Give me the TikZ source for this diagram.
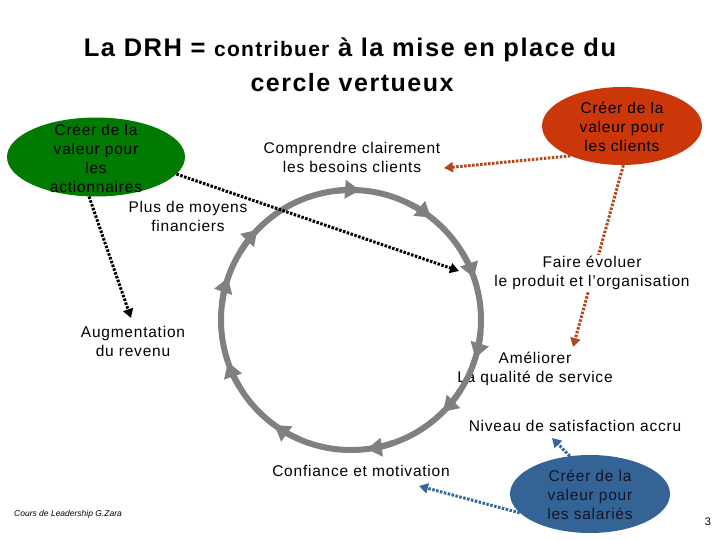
\documentclass[tikz,border=0pt]{standalone}
\usepackage{fontspec}
\setmainfont{Liberation Sans}
\usetikzlibrary{shapes.geometric,arrows.meta,calc}
\definecolor{cgreen}{RGB}{0,122,0}
\definecolor{cred}{RGB}{204,55,10}
\definecolor{cblue}{RGB}{52,100,150}
\definecolor{cgray}{RGB}{128,128,128}
\definecolor{dred}{RGB}{180,70,30}
\definecolor{dblue}{RGB}{51,102,153}
\definecolor{btext}{RGB}{20,20,40}
\begin{document}
\begin{tikzpicture}[x=1pt,y=-1pt,
  lbl/.style={align=center, font=\fontsize{15.5}{19}\selectfont\addfontfeatures{LetterSpace=5}, inner sep=1pt},
  bubble/.style={ellipse, minimum width=160pt, minimum height=78pt, inner sep=0pt, draw=none},
  dots/.style={line width=3pt, dash pattern=on 2.5pt off 1.5pt, -{Triangle[length=9pt,width=10pt]}},
  ring/.style={cgray, line width=6pt},
  ringtip/.style={ring, -{Triangle[length=15pt,width=18pt]}}]
\useasboundingbox[fill=white] (0,0) rectangle (720,540);

% title
\node[inner sep=0pt] (t1) at (350,50) {\fontsize{25.5}{30}\selectfont\bfseries\addfontfeatures{LetterSpace=6}La DRH = {\fontsize{21}{24}\selectfont\addfontfeatures{LetterSpace=6}contribuer} à la mise en place du};
\node[inner sep=0pt] (t2) at (352,83) {\fontsize{25}{30}\selectfont\bfseries\addfontfeatures{LetterSpace=6}cercle vertueux};

% bubbles
\node[bubble, fill=cgreen, minimum width=178pt, minimum height=79pt] (g) at (96,157) {};
\node[bubble, fill=cred] (r) at (622,126) {};
\node[bubble, fill=cblue] (b) at (590,494) {};

% label overlapped by the ring
\node[lbl] (ame) at (535,369) {Améliorer\\La qualité de service};

% circle
\coordinate (c) at (351,320);
\draw[ring] (c) circle[radius=130];
\foreach \a in {86,52,19,-17,-45,-83,-126,-161,161,136} {
  \draw[ringtip] ($(c)+(-\a-12:130)$) arc[start angle=-\a-12, end angle=-\a, radius=130];
}

% dotted connectors
\coordinate (e1) at (459,271);
\coordinate (e2) at (131,318);
\coordinate (e3) at (444,168);
\coordinate (e4) at (573,347);
\coordinate (e5) at (419,486);
\coordinate (e6) at (552,438);
\draw[dots, black] (g.-12) -- (e1);
\draw[dots, black] (g.-100) -- (e2);
\draw[dots, dred] (r.-150) -- (e3);
\draw[dots, dred] (r.-88) -- (e4);
\draw[dots, dblue] (b.-165) -- (e5);
\draw[dots, dblue] (b.118) -- (e6);

% texts
\node[lbl, text=black] (gt) at (96,158) {Créer de la\\valeur pour\\les\\actionnaires};
\node[lbl, text=black] (rt) at (622,127) {Créer de la\\valeur pour\\les clients};
\node[lbl, text=btext] (bt) at (590,495) {Créer de la\\valeur pour\\les salariés};
\node[lbl] (moy) at (188,216) {Plus de moyens\\financiers};
\node[lbl] (comp) at (352,157) {Comprendre clairement\\les besoins clients};
\node[lbl, fill=white] (faire) at (592,273) {Faire évoluer\\le produit et l’organisation};
\node[lbl] (aug) at (133,341) {Augmentation\\du revenu};
\node[lbl] (niv) at (575,426) {Niveau de satisfaction accru};
\node[lbl] (conf) at (361,471) {Confiance et motivation};
\node[anchor=west, inner sep=0pt, font=\fontsize{8.5}{10}\selectfont\itshape] (cours) at (14,514) {Cours de Leadership G.Zara};
\node[inner sep=0pt, font=\fontsize{11}{13}\selectfont] (num) at (708,522) {3};
\end{tikzpicture}
\end{document}
